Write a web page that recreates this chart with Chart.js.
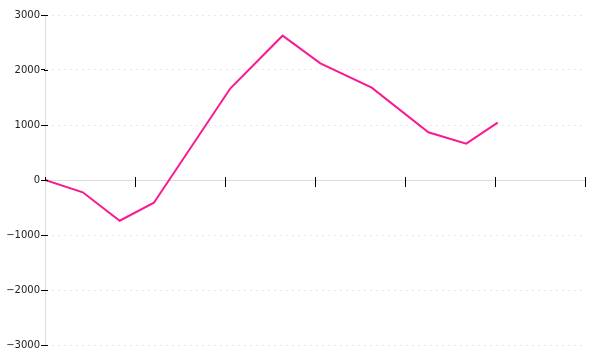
<!DOCTYPE html>
<html>
<head>
<meta charset="utf-8">
<script src="https://cdn.jsdelivr.net/npm/chart.js@4/dist/chart.umd.min.js"></script>
<style>
  html, body { margin: 0; padding: 0; background: #fff; }
  #chart { display: block; }
</style>
</head>
<body>
<canvas id="chart" width="600" height="360"></canvas>
<script>
// x positions (axis units, ticks at 0..6)
const xValues = [0, 0.42, 0.83, 1.21, 2.06, 2.64, 3.06, 3.63, 4.26, 4.68, 5.03];
const yValues = [0, -224, -740, -413, 1667, 2624, 2121, 1679, 867, 661, 1042];
const yTicks = [-3000, -2000, -1000, 0, 1000, 2000, 3000];

const points = xValues.map((x, i) => ({ x, y: yValues[i] }));

// tick marks in the reference cross the axis line a little; extend them inward
const crossTicks = {
  id: 'crossTicks',
  afterDraw(chart) {
    const { ctx, scales: { x, y } } = chart;
    const y0 = y.getPixelForValue(0);
    ctx.save();
    ctx.strokeStyle = '#000';
    ctx.lineWidth = 1;
    ctx.beginPath();
    x.ticks.forEach(t => {
      const px = Math.round(x.getPixelForValue(t.value)) + 0.5;
      ctx.moveTo(px, y0 - 3);
      ctx.lineTo(px, y0 + 1);
    });
    yTicks.forEach(v => {
      const py = Math.round(y.getPixelForValue(v)) + 0.5;
      ctx.moveTo(x.left - 1, py);
      ctx.lineTo(x.left + 3, py);
    });
    ctx.stroke();
    ctx.restore();
  }
};

const canvas = document.getElementById('chart');

new Chart(canvas, {
  type: 'line',
  data: {
    datasets: [{
      data: points,
      borderColor: '#f71a92',
      borderWidth: 2,
      pointRadius: 0,
      tension: 0,
      fill: false
    }]
  },
  options: {
    responsive: false,
    animation: false,
    devicePixelRatio: 1,
    layout: { padding: { left: 0, top: 15, right: 15, bottom: 15 } },
    plugins: { legend: { display: false }, tooltip: { enabled: false } },
    scales: {
      x: {
        type: 'linear',
        position: { y: 0 },
        min: 0,
        max: 6,
        ticks: { display: false, stepSize: 1 },
        grid: { drawOnChartArea: false, drawTicks: true, tickLength: 6, tickColor: '#000', tickWidth: 1 },
        border: { display: true, color: '#dddddd', width: 1 }
      },
      y: {
        min: -3000,
        max: 3000,
        afterBuildTicks: s => { s.ticks = yTicks.map(v => ({ value: v })); },
        afterFit: s => { s.width = 45; },
        ticks: {
          padding: 1,
          color: '#222',
          font: { family: 'DejaVu Sans', size: 10 },
          callback: v => (v < 0 ? '\u2212' + Math.abs(v) : String(v))
        },
        grid: { color: '#e8e8e8', tickColor: '#000', tickLength: 4, tickBorderDash: [] },
        border: { display: true, color: '#dddddd', dash: [2, 4] }
      }
    }
  },
  plugins: [crossTicks]
});
</script>
</body>
</html>
